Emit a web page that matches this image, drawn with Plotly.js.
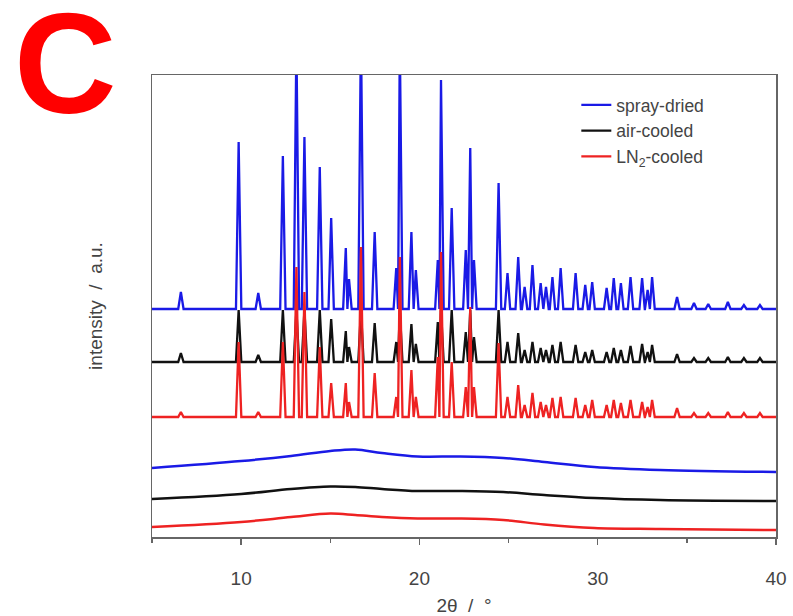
<!DOCTYPE html>
<html>
<head>
<meta charset="utf-8">
<script src="https://cdn.plot.ly/plotly-3.0.1.min.js"></script>
<style>html,body{margin:0;padding:0;background:#fff;}</style>
</head>
<body>
<div id="chart" style="width:793px;height:616px;"></div>
<script>
// Peak positions (2θ, degrees) of the crystalline patterns
const peakPos = [6.62, 9.86, 10.96, 12.34, 13.10, 13.55, 14.41, 15.05, 15.87, 16.05, 16.72, 17.49, 18.70, 18.90, 19.55, 19.80, 21.03, 21.21, 21.81, 22.60, 22.85, 23.06, 24.44, 24.94, 25.54, 25.90, 26.34, 26.80, 27.10, 27.46, 27.92, 28.76, 29.30, 29.69, 30.50, 30.90, 31.30, 31.84, 32.49, 32.80, 33.05, 34.45, 35.40, 36.20, 37.30, 38.20, 39.10];
// Peak heights above each pattern's baseline (a.u.)
const heightSpray = [17, 167, 16, 153, 270, 172, 142, 91, 61, 30, 280, 77, 41, 270, 77, 39, 49, 229, 101, 59, 161, 49, 126, 36, 52, 22, 44, 26, 22, 32, 41, 36, 24, 27, 21, 31, 26, 32, 31, 19, 32, 12, 6, 5, 7, 4, 4];
const heightAir   = [9, 52, 7, 52, 52, 52, 52, 43, 31, 15, 52, 39, 20, 52, 38, 18, 40, 52, 52, 30, 52, 25, 52, 20, 29, 12, 20, 14, 12, 17, 20, 17, 10, 12, 10, 14, 12, 16, 18, 10, 17, 8, 4, 4, 5, 4, 4];
const heightLN2   = [5, 75, 5, 75, 150, 125, 70, 34, 34, 15, 170, 44, 20, 160, 47, 20, 60, 165, 55, 30, 110, 30, 74, 20, 32, 12, 24, 15, 12, 19, 20, 19, 12, 17, 12, 17, 14, 17, 15, 10, 17, 9, 4, 4, 5, 4, 4];

// Amorphous halo patterns
const haloX      = [5, 10, 12.8, 15, 16.4, 17.9, 19.9, 22.3, 24.7, 27, 29.8, 33.5, 40];
const haloSpray  = [69, 76, 81, 86, 87.5, 84, 80.5, 80.5, 79, 75, 70, 67, 65];
const haloAir    = [38, 43, 48, 50.5, 50, 48, 46, 46, 45, 42, 39, 37, 36];
const haloLN2    = [10, 15, 20, 23.5, 22, 20, 18.5, 18.5, 17, 12.5, 9, 8, 7];

const seriesNames = ['spray-dried', 'air-cooled', 'LN<sub>2</sub>-cooled'];
const seriesColors = ['#1a1ae6', '#111111', '#ee2222'];

// stacking offsets of crystalline patterns (layout)
const offSpray = 228, offAir = 175, offLN2 = 120;
const HW = 0.15;

function pattern(heights, base) {
  const x = [5], y = [base];
  for (let i = 0; i < peakPos.length; i++) {
    const p = peakPos[i];
    if (x[x.length - 1] > p - HW) {
      x[x.length - 1] = (peakPos[i - 1] + p) / 2;
    } else {
      x.push(p - HW); y.push(base);
    }
    x.push(p); y.push(base + heights[i]);
    x.push(p + HW); y.push(base);
  }
  x.push(40); y.push(base);
  return {x, y};
}

const pSpray = pattern(heightSpray, offSpray);
const pAir = pattern(heightAir, offAir);
const pLN2 = pattern(heightLN2, offLN2);

const lw = 2.3;
const traces = [
  {x: pAir.x, y: pAir.y, mode: 'lines', name: seriesNames[1], legendrank: 2, line: {color: seriesColors[1], width: lw}},
  {x: pSpray.x, y: pSpray.y, mode: 'lines', name: seriesNames[0], legendrank: 1, line: {color: seriesColors[0], width: lw}},
  {x: pLN2.x, y: pLN2.y, mode: 'lines', name: seriesNames[2], legendrank: 3, line: {color: seriesColors[2], width: lw}},
  {x: haloX, y: haloSpray, mode: 'lines', showlegend: false, line: {color: seriesColors[0], width: 2.5, shape: 'spline', smoothing: 1}},
  {x: haloX, y: haloAir, mode: 'lines', showlegend: false, line: {color: seriesColors[1], width: 2.5, shape: 'spline', smoothing: 1}},
  {x: haloX, y: haloLN2, mode: 'lines', showlegend: false, line: {color: seriesColors[2], width: 2.5, shape: 'spline', smoothing: 1}}
];

const layout = {
  width: 793, height: 616,
  margin: {l: 152, r: 17, t: 75, b: 79},
  paper_bgcolor: '#fff', plot_bgcolor: '#fff',
  font: {family: 'Liberation Sans, Arial, sans-serif', color: '#444', size: 17},
  xaxis: {
    range: [5, 40], tickmode: 'linear', tick0: 10, dtick: 10,
    showline: true, mirror: true, linecolor: '#666', linewidth: 1.5,
    ticks: 'outside', ticklen: 6, tickcolor: '#666', tickwidth: 1.5,
    minor: {dtick: 5, tick0: 5, ticks: 'outside', ticklen: 4, tickcolor: '#666'},
    showgrid: false, zeroline: false,
    ticklabelstandoff: 18,
    tickfont: {size: 19, color: '#444'},
    title: {text: '2θ  /  °', font: {size: 19, color: '#444'}, standoff: 10}
  },
  yaxis: {
    range: [0, 462], showticklabels: false, ticks: '',
    showline: true, mirror: true, linecolor: '#666', linewidth: 1.5,
    showgrid: false, zeroline: false,
    title: {text: 'intensity  /  a.u.', font: {size: 19, color: '#444'}, standoff: 43}
  },
  legend: {
    x: 0.68, y: 0.974, xanchor: 'left', yanchor: 'top',
    bgcolor: 'rgba(0,0,0,0)', font: {size: 17.5, color: '#444'},
    tracegroupgap: 0
  },
  showlegend: true,
  annotations: [{
    text: '<b>C</b>', xref: 'paper', yref: 'paper',
    x: -0.138, y: 1.025, xanchor: 'center', yanchor: 'middle', showarrow: false,
    font: {family: 'Liberation Sans, Arial, sans-serif', size: 142, color: '#ff0000'}
  }]
};

Plotly.newPlot('chart', traces, layout, {displayModeBar: false, staticPlot: true});
</script>
</body>
</html>
